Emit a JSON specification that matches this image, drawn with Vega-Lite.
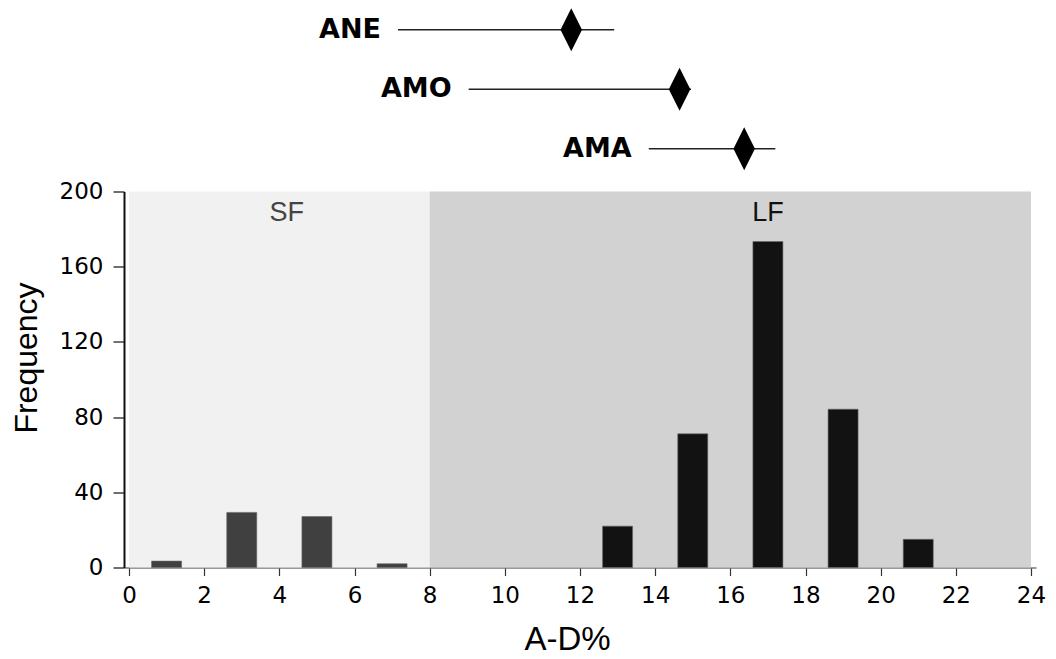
{
  "$schema": "https://vega.github.io/schema/vega-lite/v6.json",
  "background": "white",
  "padding": {"left": 10, "top": 0, "right": 2, "bottom": 2},
  "config": {"view": {"stroke": null}},
  "bounds": "flush",
  "spacing": 12.5,
  "vconcat": [
    {
      "width": 912,
      "height": 178.5,
      "data": {"values": [
        {"group": "ANE", "low": 7.21, "mean": 11.77, "high": 12.9},
        {"group": "AMO", "low": 9.07, "mean": 14.62, "high": 14.92},
        {"group": "AMA", "low": 13.81, "mean": 16.32, "high": 17.14}
      ]},
      "encoding": {
        "y": {"field": "group", "type": "nominal", "scale": {"type": "point", "padding": 0.5, "domain": ["ANE", "AMO", "AMA"]}, "axis": null}
      },
      "layer": [
        {
          "mark": {"type": "rule", "color": "#222222", "strokeWidth": 1.5},
          "encoding": {
            "x": {"field": "low", "type": "quantitative", "scale": {"domain": [0, 24], "nice": false, "zero": false}, "axis": null},
            "x2": {"field": "high"}
          }
        },
        {
          "mark": {"type": "point", "shape": "M0,-1L0.5,0L0,1L-0.5,0Z", "filled": true, "color": "#000000", "opacity": 1, "size": 1849},
          "encoding": {
            "x": {"field": "mean", "type": "quantitative", "scale": {"domain": [0, 24], "nice": false, "zero": false}, "axis": null}
          }
        },
        {
          "mark": {"type": "text", "align": "right", "baseline": "middle", "dx": -17, "font": "DejaVu Sans", "fontWeight": "bold", "fontSize": 27, "color": "#000000"},
          "encoding": {
            "x": {"field": "low", "type": "quantitative", "scale": {"domain": [0, 24], "nice": false, "zero": false}, "axis": null},
            "text": {"field": "group"}
          }
        }
      ]
    },
    {
      "width": 912,
      "height": 376,
      "layer": [
        {
          "data": {"values": [
            {"zone": "SF", "start": 0, "end": 8},
            {"zone": "LF", "start": 8, "end": 24}
          ]},
          "mark": {"type": "rect"},
          "encoding": {
            "x": {"field": "start", "type": "quantitative", "scale": {"domain": [0, 24], "nice": false, "zero": false},
              "title": "A-D%",
              "axis": {"values": [0, 2, 4, 6, 8, 10, 12, 14, 16, 18, 20, 22, 24], "grid": false, "domainColor": "#777777", "domainWidth": 1.5, "tickColor": "#333333", "tickSize": 8, "tickWidth": 1.2, "labelFont": "DejaVu Sans", "labelFontSize": 23, "labelColor": "#000000", "labelPadding": 9, "labelFlush": false, "titleFont": "Liberation Sans", "titleFontSize": 33, "titleFontWeight": "normal", "titleColor": "#000000", "titlePadding": 16, "titleX": 443}},
            "x2": {"field": "end"},
            "color": {"field": "zone", "type": "nominal", "scale": {"domain": ["SF", "LF"], "range": ["#f1f1f1", "#d2d2d2"]}, "legend": null}
          }
        },
        {
          "data": {"values": [
            {"zone": "SF", "label_x": 4.2, "label_y": 188.5},
            {"zone": "LF", "label_x": 17, "label_y": 188.5}
          ]},
          "mark": {"type": "text", "font": "Liberation Sans", "fontSize": 27, "baseline": "middle", "align": "center"},
          "encoding": {
            "x": {"field": "label_x", "type": "quantitative"},
            "y": {"field": "label_y", "type": "quantitative"},
            "text": {"field": "zone"},
            "color": {"field": "zone", "type": "nominal", "scale": {"domain": ["SF", "LF"], "range": ["#444444", "#111111"]}, "legend": null}
          }
        },
        {
          "data": {"values": [
            {"ad": 1, "freq": 3.4, "zone": "SF"},
            {"ad": 3, "freq": 29.3, "zone": "SF"},
            {"ad": 5, "freq": 27.1, "zone": "SF"},
            {"ad": 7, "freq": 2, "zone": "SF"},
            {"ad": 13, "freq": 22, "zone": "LF"},
            {"ad": 15, "freq": 71.1, "zone": "LF"},
            {"ad": 17, "freq": 173.4, "zone": "LF"},
            {"ad": 19, "freq": 84.2, "zone": "LF"},
            {"ad": 21, "freq": 15, "zone": "LF"}
          ]},
          "mark": {"type": "bar", "size": 30, "stroke": "#666666", "strokeWidth": 0.6},
          "encoding": {
            "x": {"field": "ad", "type": "quantitative"},
            "y": {"field": "freq", "type": "quantitative", "scale": {"domain": [0, 200], "nice": false},
              "title": "Frequency",
              "axis": {"values": [0, 40, 80, 120, 160, 200], "grid": false, "domainColor": "#111111", "domainWidth": 2, "tickColor": "#111111", "tickSize": 11, "tickWidth": 1.2, "labelFont": "DejaVu Sans", "labelFontSize": 23, "labelColor": "#000000", "labelPadding": 10, "labelFlush": false, "titleFont": "Liberation Sans", "titleFontSize": 32, "titleFontWeight": "normal", "titleColor": "#000000", "titlePadding": 16, "titleY": 166}},
            "color": {"field": "zone", "type": "nominal", "scale": {"domain": ["SF", "LF"], "range": ["#404040", "#121212"]}, "legend": null}
          }
        }
      ],
      "resolve": {"scale": {"color": "independent"}}
    }
  ]
}
